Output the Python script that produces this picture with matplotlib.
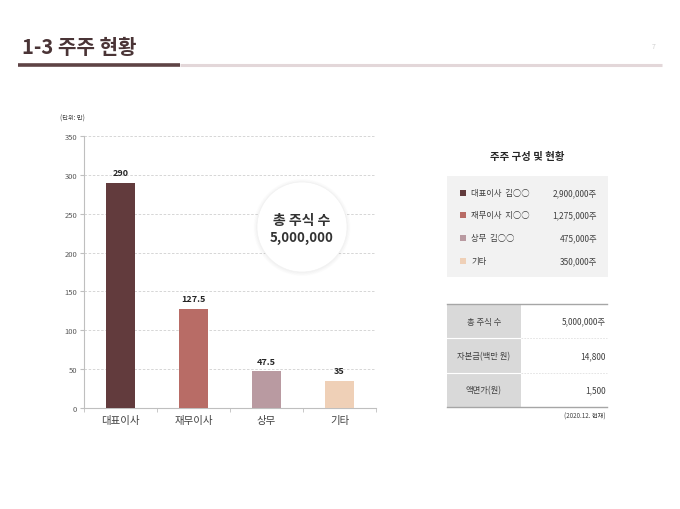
import numpy as np
import matplotlib.pyplot as plt
from matplotlib.patches import Rectangle, Circle

plt.rcParams['font.family'] = ['Noto Sans CJK KR', 'DejaVu Sans']

# data
categories = ['대표이사', '재무이사', '상무', '기타']
shares = [290, 127.5, 47.5, 35]
colors = ['#623B3D', '#B86C66', '#B99AA1', '#EFD0B7']
yticks = [0, 50, 100, 150, 200, 250, 300, 350]

legend_names = ['대표이사  김○○', '재무이사  지○○', '상무  김○○', '기타']
legend_values = ['2,900,000주', '1,275,000주', '475,000주', '350,000주']

table_labels = ['총 주식 수', '자본금(백만 원)', '액면가(원)']
table_values = ['5,000,000주', '14,800', '1,500']

W, H = 680, 510
fig = plt.figure(figsize=(6.8, 5.1), dpi=100)

# bar chart
ax = fig.add_axes([84 / W, 1 - 409 / H, 292 / W, 272 / H])
x = np.arange(len(categories))
bars = ax.bar(x, shares, width=0.4, color=colors, zorder=3)
ax.bar_label(bars, labels=[f'{v:g}' for v in shares], padding=4,
             fontsize=6.5, fontweight='bold', color='#262626')
ax.set_xlim(-0.5, 3.5)
ax.set_ylim(0, 350)
ax.set_yticks(yticks)
ax.set_xticks(x)
ax.set_xticklabels(categories)
ax.set_xticks([-0.5, 0.5, 1.5, 2.5, 3.5], minor=True)
ax.tick_params(axis='x', which='major', length=0, labelsize=7.5,
               labelcolor='#404040', pad=5)
ax.tick_params(axis='x', which='minor', length=3, color='#BFBFBF')
ax.tick_params(axis='y', length=3, color='#BFBFBF', labelsize=5.5,
               labelcolor='#595959', pad=2)
ax.grid(axis='y', linestyle=(0, (3, 2)), color='#D0D0D0', linewidth=0.6, zorder=0)
for s in ['top', 'right']:
    ax.spines[s].set_visible(False)
for s in ['left', 'bottom']:
    ax.spines[s].set_color('#BFBFBF')
    ax.spines[s].set_linewidth(0.8)

# overlay in pixel coordinates
ov = fig.add_axes([0, 0, 1, 1], zorder=5)
ov.set_xlim(0, W)
ov.set_ylim(H, 0)
ov.axis('off')
ov.patch.set_alpha(0)

# header
ov.text(22, 48, '1-3 주주 현황', fontsize=14.5, fontweight='bold',
        color='#4A3436', va='center', ha='left')
ov.text(654, 47, '7', fontsize=5, color='#D0D0D0', va='center', ha='center')
ov.plot([180, 662], [66, 66], color='#E3D7D9', linewidth=2.2, solid_capstyle='butt')
ov.plot([18, 180], [66, 66], color='#5E4345', linewidth=2.6, solid_capstyle='butt')

ov.text(60, 119, '(단위: 만)', fontsize=4.5, color='#404040', va='center', ha='left')

# circle with soft shadow
cx, cy, r = 302, 228, 45
for i in range(6):
    ov.add_patch(Circle((cx, cy + 0.5), r + 0.6 * (i + 1), facecolor='#000000',
                        alpha=0.008, edgecolor='none'))
ov.add_patch(Circle((cx, cy), r, facecolor='white', edgecolor='#F0F0F0', linewidth=0.4))
ov.text(cx, cy - 7, '총 주식 수', fontsize=10, fontweight='bold', color='#333333',
        ha='center', va='center')
ov.text(cx, cy + 10, '5,000,000', fontsize=9.5, fontweight='bold', color='#333333',
        ha='center', va='center')

# legend panel
ov.text(527, 157, '주주 구성 및 현황', fontsize=7.5, fontweight='bold',
        color='#262626', ha='center', va='center')
ov.add_patch(Rectangle((447, 177), 161, 101, facecolor='#F2F2F2', edgecolor='none'))
row_y = [194, 216, 239, 262]
for yy, c, name, val in zip(row_y, colors, legend_names, legend_values):
    ov.add_patch(Rectangle((460, yy - 3), 6, 6, facecolor=c, edgecolor='none'))
    ov.text(471, yy, name, fontsize=6, color='#404040', ha='left', va='center')
    ov.text(597, yy, val, fontsize=6, color='#404040', ha='right', va='center')

# info table
top, rh = 305, 34.3
ov.add_patch(Rectangle((447, top), 74, rh * 3, facecolor='#D9D9D9', edgecolor='none'))
ov.plot([447, 607], [top, top], color='#A6A6A6', linewidth=1.0)
ov.plot([447, 607], [top + 3 * rh, top + 3 * rh], color='#A6A6A6', linewidth=1.0)
for k in range(1, 3):
    yy = top + k * rh
    ov.plot([447, 521], [yy, yy], color='white', linewidth=0.8)
    ov.plot([521, 607], [yy, yy], color='#E0E0E0', linewidth=0.6,
            linestyle=(0, (2, 1.5)))
for k, (lab, val) in enumerate(zip(table_labels, table_values)):
    yy = top + (k + 0.5) * rh
    ov.text(484, yy, lab, fontsize=6, color='#404040', ha='center', va='center')
    ov.text(606, yy, val, fontsize=6, color='#404040', ha='right', va='center')
ov.text(606, 417, '(2020.12. 현재)', fontsize=4.5, color='#404040',
        ha='right', va='center')

fig.savefig('out.png', dpi=100)
